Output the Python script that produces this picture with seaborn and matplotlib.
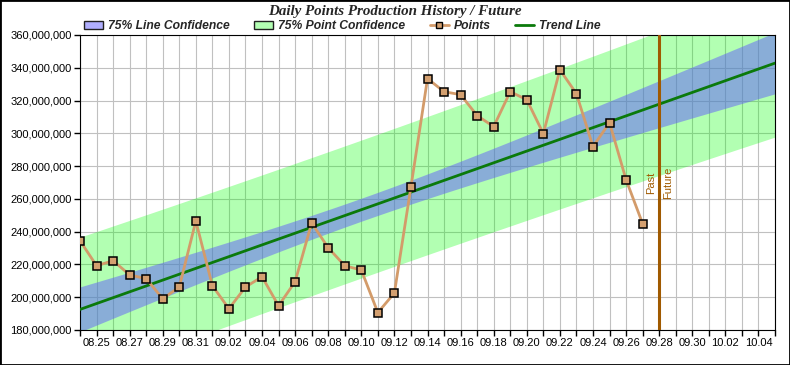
#%%

import numpy as np
import pandas as pd
import seaborn as sns
from matplotlib import dates as mdates
from matplotlib import pyplot as plt
from matplotlib.lines import Line2D
from matplotlib.patches import Patch, Rectangle
from matplotlib.ticker import FuncFormatter

# daily points (millions)
days = ["08.24", "08.25", "08.26", "08.27", "08.28", "08.29", "08.30", "08.31",
        "09.01", "09.02", "09.03", "09.04", "09.05", "09.06", "09.07", "09.08",
        "09.09", "09.10", "09.11", "09.12", "09.13", "09.14", "09.15", "09.16",
        "09.17", "09.18", "09.19", "09.20", "09.21", "09.22", "09.23", "09.24",
        "09.25", "09.26", "09.27"]
points = [234.5, 219.2, 222.3, 213.6, 211.3, 199.1, 206.2, 246.5,
          207.0, 193.0, 206.2, 212.5, 194.8, 209.5, 245.3, 230.2,
          219.2, 216.6, 190.6, 202.6, 267.4, 333.4, 325.4, 323.6,
          310.8, 304.1, 325.4, 320.5, 299.8, 338.8, 324.2, 291.9,
          306.5, 271.7, 244.9]
axis_start = "08.24"
axis_end = "10.05"
divider = "09.28"
year = "2000"  # not shown on the chart

params = {
    'axes.facecolor': 'white',
    'axes.edgecolor': 'black',
    'axes.linewidth': 1.3,
    'grid.color': '#C0C0C0',
    'grid.linewidth': 1.0,
    'grid.linestyle': '-',
    'xtick.bottom': True,
    'ytick.left': True,
}
sns.set_style("whitegrid", params)
plt.rcParams['font.family'] = ['Liberation Sans', 'DejaVu Sans']


def to_num(labels):
    return mdates.date2num(pd.to_datetime([f"{year}.{d}" for d in labels], format="%Y.%m.%d"))


frame = pd.DataFrame({"DATA": to_num(days), "POINTS": np.array(points) * 1e6})
x_start, x_end = to_num([axis_start, axis_end])
x_div = to_num([divider])[0]

# least squares trend with 75% bands
d = frame["DATA"].values - x_start
y = frame["POINTS"].values
b, a = np.polyfit(d, y, 1)
n = len(y)
s = np.sqrt(np.sum((y - (a + b * d)) ** 2) / (n - 2))
sxx = np.sum((d - d.mean()) ** 2)
t75 = 1.17
gd = np.linspace(0, x_end - x_start, 300)
fit = a + b * gd
se_line = t75 * s * np.sqrt(1 / n + (gd - d.mean()) ** 2 / sxx)
se_point = t75 * s * np.sqrt(1 + 1 / n + (gd - d.mean()) ** 2 / sxx)
gx = gd + x_start

#%%
fig = plt.figure(figsize=(7.9, 3.65), dpi=100)
ax = fig.add_axes([80 / 790, 35 / 365, 695 / 790, 295 / 365])
ax.set_axisbelow(True)

ax.fill_between(gx, fit - se_point, fit + se_point, color='#00FF00', alpha=0.3, lw=0, zorder=1)
ax.fill_between(gx, fit - se_line, fit + se_line, color='#615DFD', alpha=0.5, lw=0, zorder=2)
ax.plot(gx, fit, color='#0B7A0B', lw=2, zorder=3)

sns.lineplot(data=frame, x="DATA", y="POINTS", ax=ax, color='#D39B6A', lw=2,
             marker='s', markersize=5.5, markerfacecolor='#D4A070',
             markeredgecolor='black', markeredgewidth=1.1, zorder=4)

ax.axvline(x_div, color='#A05A00', lw=2.2, zorder=5)
ax.annotate("Past", (x_div, 270e6), xytext=(-2.5, 0), textcoords='offset points',
            rotation=90, ha='right', va='center', color='#A05A00', fontsize=8)
ax.annotate("Future", (x_div, 270e6), xytext=(2.5, 0), textcoords='offset points',
            rotation=90, ha='left', va='center', color='#A05A00', fontsize=8)

ax.set_xlim(x_start, x_end)
ax.set_ylim(180e6, 360e6)
ax.set_xticks(np.arange(x_start + 1, x_end, 2))
ax.set_xticks(np.arange(x_start, x_end + 1, 1), minor=True)
ax.xaxis.set_major_formatter(mdates.DateFormatter("%m.%d"))
ax.set_yticks(np.arange(180e6, 360e6 + 1, 20e6))
ax.yaxis.set_major_formatter(FuncFormatter(lambda v, p: f"{v:,.0f}"))
ax.grid(True, which='both', axis='x')
ax.grid(True, which='major', axis='y')
ax.tick_params(axis='both', which='both', direction='out', length=4, width=1,
               color='black', labelsize=8, labelcolor='black', pad=2)
ax.set_xlabel("")
ax.set_ylabel("")
for sp in ax.spines.values():
    sp.set_color('black')
    sp.set_visible(True)

fig.text(0.5, 1 - 12 / 365, "Daily Points Production History / Future",
         family='Liberation Serif', weight='bold', style='italic', fontsize=10.8,
         ha='center', va='center')

handles = [Patch(facecolor='#B0AEFE', edgecolor='#202020', lw=1),
           Patch(facecolor='#B3FFB3', edgecolor='#202020', lw=1),
           Line2D([], [], color='#D39B6A', lw=2, marker='s', markersize=5,
                  markerfacecolor='#D4A070', markeredgecolor='black'),
           Line2D([], [], color='#0B7A0B', lw=2)]
labels = ["75% Line Confidence", "75% Point Confidence", "Points", "Trend Line"]
fig.legend(handles, labels, loc='center left', bbox_to_anchor=(84 / 790, 1 - 26 / 365),
           ncol=4, frameon=False, borderpad=0, borderaxespad=0,
           handlelength=1.6, handleheight=0.7, handletextpad=0.4, columnspacing=2.0,
           prop=dict(family='Liberation Sans', weight='bold', style='italic', size=8.7))

fig.add_artist(Rectangle((0, 0), 1, 1, transform=fig.transFigure, fill=False,
                         edgecolor='black', lw=2))

plt.savefig("out.png", dpi=100)
